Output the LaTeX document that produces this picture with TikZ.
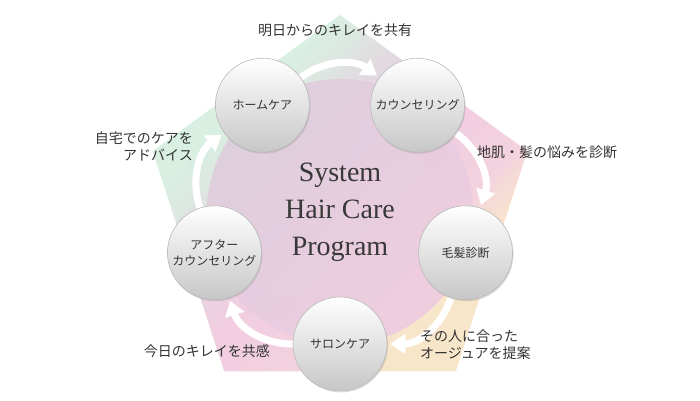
\documentclass[tikz,border=0pt]{standalone}
\usepackage{fontspec}
\setmainfont{Liberation Serif}
\newfontfamily\jpfont{Noto Sans CJK JP}
\usepackage{xcolor}
\usetikzlibrary{positioning,arrows.meta,calc,shadows,shadings}

\definecolor{bgpeach}{HTML}{F8E6CA}
\definecolor{bgpeachpink}{HTML}{F6DDD3}
\definecolor{bgrose}{HTML}{F3D2DF}
\definecolor{bgpink}{HTML}{F1CDE0}
\definecolor{bglav}{HTML}{E9D4E0}
\definecolor{bggray}{HTML}{E1D9DF}
\definecolor{bggreengray}{HTML}{DDE8E1}
\definecolor{bggreen}{HTML}{D8EFE2}
\definecolor{coregray}{HTML}{DAD1DB}
\definecolor{corelav}{HTML}{E6CBDF}
\definecolor{corepink}{HTML}{F3CEDE}
\definecolor{textgray}{HTML}{333333}

\pgfdeclareverticalshading{petalshade}{100bp}{color(0bp)=(bgpeach); color(30bp)=(bgpeach);
    color(34bp)=(bgpeachpink); color(37bp)=(bgrose); color(48bp)=(bgpink); color(54bp)=(bglav);
    color(59bp)=(bggray); color(64bp)=(bggreengray); color(68bp)=(bggreen); color(100bp)=(bggreen)}

\pgfdeclarelayer{bg}
\pgfdeclarelayer{flowlayer}
\pgfsetlayers{bg,flowlayer,main}

\begin{document}
\begin{tikzpicture}[
    x=1pt, y=1pt,
    ball/.style={circle, draw=gray!55, line width=0.6pt, top color=white, bottom color=black!22,
                 minimum size=94pt, inner sep=0pt, align=center, text=textgray,
                 font=\jpfont\fontsize{12}{16}\selectfont,
                 drop shadow={shadow xshift=1pt, shadow yshift=-1.5pt, opacity=0.25}},
    title/.style={align=center, text=black!78, font=\fontsize{28}{37}\selectfont},
    note/.style={inner sep=0pt, text=textgray, font=\jpfont\fontsize{14}{17}\selectfont},
    flow/.style={draw=white, line width=7pt, -{Triangle[length=15pt,width=19pt]}, shorten >=3pt}
]
\useasboundingbox (0,0) rectangle (700,400);

\coordinate (C) at (340,188);

% --- Background ---
\begin{pgfonlayer}{bg}
\shade[shading=petalshade, shading angle=45]
    ($(C)+(90:197)$) -- ($(C)+(162:197)$) -- ($(C)+(234:197)$)
    -- ($(C)+(306:197)$) -- ($(C)+(18:197)$) -- cycle;
\shade[upper left=coregray, upper right=corelav, lower left=corelav, lower right=corepink]
    (C) circle (133);
\end{pgfonlayer}

\node[title] (prog) at (C) {System\\Hair Care\\Program};

% --- Cycle ---
\node[ball] (home) at ($(C)+(126:132)$) {ホームケア};
\node[ball] (coun) at ($(C)+(54:132)$) {カウンセリング};
\node[ball] (diag) at ($(C)+(-18:132)$) {毛髪診断};
\node[ball] (salon) at ($(C)+(-90:132)$) {サロンケア};
\node[ball] (after) at ($(C)+(198:132)$) {アフター\\カウンセリング};

\begin{pgfonlayer}{flowlayer}
\draw[flow] (home) to[bend left=36] (coun);
\draw[flow] (coun) to[bend left=36] (diag);
\draw[flow] (diag) to[bend left=36] (salon);
\draw[flow] (salon) to[bend left=36] (after);
\draw[flow] (after) to[bend left=36] (home);
\end{pgfonlayer}

% --- Notes ---
\node[note] (share) at ($(C)+(-5,182)$) {明日からのキレイを共有};
\node[note, anchor=west] (worry) at ($(C)+(137,60)$) {地肌・髪の悩みを診断};
\node[note, anchor=west, align=left] (suggest) at ($(C)+(80,-133)$) {その人に合った\\オージュアを提案};
\node[note, anchor=east] (empathy) at ($(C)+(-70,-139)$) {今日のキレイを共感};
\node[note, anchor=east, align=right] (advice) at ($(C)+(-147,66)$) {自宅でのケアを\\アドバイス};

\end{tikzpicture}
\end{document}
